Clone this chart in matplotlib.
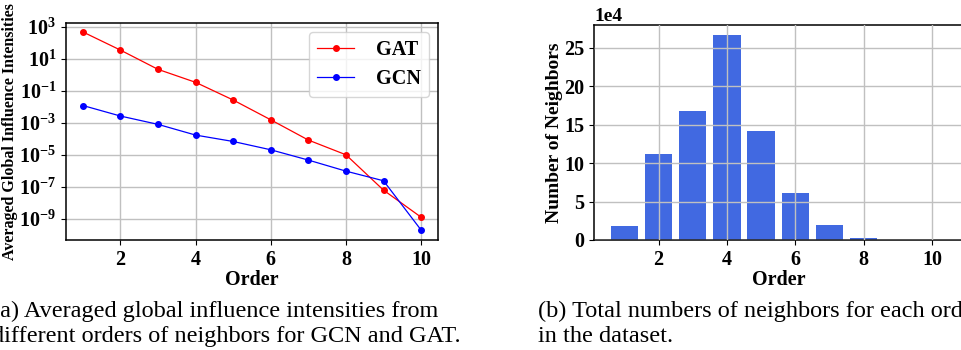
import numpy as np
import matplotlib
matplotlib.use("Agg")
import matplotlib.pyplot as plt
from matplotlib.ticker import MultipleLocator

# =========================
# DATA
# =========================

orders = [1, 2, 3, 4, 5, 6, 7, 8, 9, 10]

gat_intensity = [490, 36, 2.26, 0.35, 0.0275, 1.6e-3, 8.7e-5, 1.05e-5, 6.5e-8, 1.33e-9]
gcn_intensity = [0.0125, 2.75e-3, 8.3e-4, 1.78e-4, 7.1e-5, 2.15e-5, 4.9e-6, 1.0e-6, 2.5e-7, 2.1e-10]

neighbor_counts = [18300, 112000, 167000, 266000, 141000, 61300, 19600, 2600, 150, 5]

log_ticks = [1e3, 1e1, 1e-1, 1e-3, 1e-5, 1e-7, 1e-9]

caption_a = ["(a) Averaged global influence intensities from",
             "different orders of neighbors for GCN and GAT."]
caption_b = ["(b) Total numbers of neighbors for each order",
             "in the dataset."]

# =========================
# STYLE
# =========================

plt.rcParams['font.family'] = ['Liberation Serif', 'DejaVu Serif']
plt.rcParams['font.weight'] = 'bold'
plt.rcParams['mathtext.fontset'] = 'custom'
plt.rcParams['mathtext.rm'] = 'Liberation Serif:bold'
plt.rcParams['mathtext.it'] = 'Liberation Serif:bold:italic'
plt.rcParams['mathtext.bf'] = 'Liberation Serif:bold'
plt.rcParams['axes.linewidth'] = 1.1

fig = plt.figure(figsize=(9.62, 3.5), dpi=100)

# =========================
# LEFT: INFLUENCE INTENSITIES
# =========================

ax1 = fig.add_axes([0.0686, 0.3143, 0.3867, 0.62])

ax1.plot(orders, gat_intensity, color='red', marker='o', markersize=4,
         linewidth=0.9, label='GAT')
ax1.plot(orders, gcn_intensity, color='blue', marker='o', markersize=4,
         linewidth=0.9, label='GCN')

ax1.set_yscale('log')
ax1.set_ylim(10 ** -10.3, 10 ** 3.25)
ax1.set_yticks(log_ticks)
ax1.set_yticklabels([r'$10^{%d}$' % int(np.log10(t)) for t in log_ticks])
ax1.minorticks_off()
ax1.set_xticks([2, 4, 6, 8, 10])

ax1.tick_params(labelsize=14.5)
ax1.grid(True, color='#c0c0c0', linewidth=1.0)

ax1.set_xlabel("Order", fontsize=14.5, fontweight='bold', labelpad=0)
ax1.set_ylabel("Averaged Global Influence Intensities", fontsize=11.5,
               fontweight='bold', labelpad=1)

ax1.legend(loc='upper right', prop={'weight': 'bold', 'size': 14.5},
           handlelength=1.8, handletextpad=1.1, borderaxespad=0.45,
           labelspacing=0.45)

# =========================
# RIGHT: NEIGHBOR COUNTS
# =========================

ax2 = fig.add_axes([0.6175, 0.3143, 0.3830, 0.6143])

ax2.bar(orders, neighbor_counts, width=0.8, color='royalblue')
ax2.set_axisbelow(False)
ax2.grid(True, color='#c0c0c0', linewidth=1.0)

ax2.set_xticks([2, 4, 6, 8, 10])
ax2.yaxis.set_major_locator(MultipleLocator(50000))
ax2.ticklabel_format(axis='y', style='sci', scilimits=(4, 4))
ax2.yaxis.get_offset_text().set_fontsize(14)
ax2.yaxis.get_offset_text().set_fontweight('bold')
ax2.tick_params(labelsize=14.5)

ax2.set_xlabel("Order", fontsize=14.5, fontweight='bold', labelpad=0)
ax2.set_ylabel("Number of Neighbors", fontsize=14, fontweight='bold', labelpad=1)

# =========================
# CAPTIONS
# =========================

for i, line in enumerate(caption_a):
    fig.text(-0.008, 0.095 - i * 0.072, line, fontsize=17.5,
             fontweight='normal', ha='left', va='baseline')

for i, line in enumerate(caption_b):
    fig.text(0.559, 0.095 - i * 0.072, line, fontsize=17.5,
             fontweight='normal', ha='left', va='baseline')

fig.savefig("out.png", dpi=100)
plt.close()
